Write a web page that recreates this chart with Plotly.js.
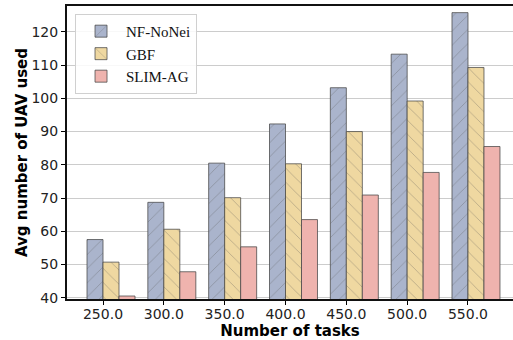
<!DOCTYPE html>
<html>
<head>
<meta charset="utf-8">
<script src="https://cdn.plot.ly/plotly-3.0.1.min.js"></script>
<style>html,body{margin:0;padding:0;background:#fff;}#chart{width:513px;height:340px;}</style>
</head>
<body>
<div id="chart"></div>
<script>
var tickLabels = ["250.0", "300.0", "350.0", "400.0", "450.0", "500.0", "550.0"];
var positions = [0, 1, 2, 3, 4, 5, 6];
var nfNoNei = [57.5, 68.7, 80.5, 92.3, 103.2, 113.3, 125.8];
var gbf = [50.7, 60.6, 70.1, 80.3, 90.0, 99.2, 109.3];
var slimAg = [40.5, 47.8, 55.3, 63.5, 70.9, 77.7, 85.5];

var W = 0.263;
function bar(name, y, color, shape, off) {
  return {
    type: 'bar', name: name, x: positions, y: y, width: W, offset: off,
    marker: {
      color: color,
      line: {color: 'rgba(70,70,70,0.75)', width: 1},
      pattern: shape ? {shape: shape, fgcolor: 'rgba(80,80,80,0.75)', size: 10, solidity: 0.08, fillmode: 'overlay'} : undefined
    }
  };
}
var data = [
  bar('NF-NoNei', nfNoNei, '#aab4cc', '/', -W),
  bar('GBF', gbf, '#efd8a1', '\\', 0),
  bar('SLIM-AG', slimAg, '#efb3ae', '', W)
];
var layout = {
  width: 513, height: 340,
  margin: {l: 67, r: 0, t: 6, b: 41},
  paper_bgcolor: '#fff', plot_bgcolor: '#fff',
  barmode: 'overlay',
  showlegend: true,
  legend: {
    x: 0.018, y: 0.973, xanchor: 'left', yanchor: 'top',
    itemwidth: 40,
    bgcolor: 'rgba(255,255,255,0.85)', bordercolor: '#d0d0d0', borderwidth: 1,
    font: {family: 'Liberation Serif', size: 15, color: '#111'}
  },
  xaxis: {
    range: [-0.592, 6.74],
    tickvals: positions, ticktext: tickLabels,
    ticks: 'outside', ticklen: 4, tickcolor: '#000', tickwidth: 1,
    ticklabelstandoff: -3,
    showline: true, linecolor: '#111', linewidth: 2, mirror: true,
    showgrid: false, zeroline: false,
    tickfont: {family: 'DejaVu Sans', size: 14, color: '#222'},
    title: {text: 'Number of tasks', font: {family: 'DejaVu Sans', size: 15, color: '#000', weight: 'bold'}, standoff: 2}
  },
  yaxis: {
    range: [39.6, 127.8],
    tickvals: [40, 50, 60, 70, 80, 90, 100, 110, 120],
    ticks: 'outside', ticklen: 4, tickcolor: '#000', tickwidth: 1,
    showline: true, linecolor: '#111', linewidth: 2,
    showgrid: true, gridcolor: '#cccccc', gridwidth: 1, zeroline: false,
    tickfont: {family: 'DejaVu Sans', size: 14, color: '#222'},
    title: {text: 'Avg number of UAV used', font: {family: 'DejaVu Sans', size: 15, color: '#000', weight: 'bold'}, standoff: 0}
  }
};
Plotly.newPlot('chart', data, layout, {displayModeBar: false, staticPlot: true});
</script>
</body>
</html>
